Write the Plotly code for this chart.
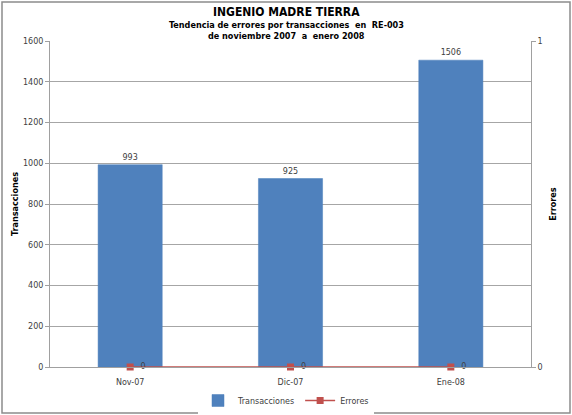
import plotly.graph_objects as go

categorias = ["Nov-07", "Dic-07", "Ene-08"]
transacciones = [993, 925, 1506]
errores = [0, 0, 0]

L, R, T, B = 50, 41, 41, 48
W, H = 572, 415
pw, ph = W - L - R, H - T - B

fig = go.Figure()
fig.add_trace(go.Bar(
    x=categorias, y=transacciones, name="Transacciones",
    marker=dict(color="#4F81BD", line=dict(color="#4A7EBB", width=0.5)),
    width=0.4,
    text=[str(v) for v in transacciones], textposition="outside",
    textfont=dict(size=8, color="#404040", family="DejaVu Sans"),
    cliponaxis=False,
))
fig.add_trace(go.Scatter(
    x=categorias, y=errores, name="Errores", yaxis="y2",
    mode="lines+markers+text",
    line=dict(color="#C0504D", width=1.5),
    marker=dict(symbol="square", size=7, color="#C0504D"),
    text=["  " + str(v) for v in errores], textposition="middle right",
    textfont=dict(size=8, color="#404040", family="DejaVu Sans"),
    cliponaxis=False,
))

fnt = "Liberation Sans Narrow, DejaVu Sans Condensed, Liberation Sans"
tick_font = dict(size=8, color="#404040", family="DejaVu Sans")

fig.update_layout(
    width=W, height=H,
    margin=dict(l=L, r=R, t=T, b=B, pad=0, autoexpand=False),
    paper_bgcolor="white", plot_bgcolor="white",
    hovermode=False,
    showlegend=True,
    legend=dict(orientation="h", x=0.5, xanchor="center", xref="container",
                y=0.0, yref="container", yanchor="bottom",
                font=dict(size=8, color="#404040", family="DejaVu Sans"),
                traceorder="normal"),
    bargap=0.6,
    xaxis=dict(showline=True, linecolor="#A0A0A0", linewidth=1, automargin=False,
               ticks="outside", ticklen=7, tickcolor="rgba(0,0,0,0)",
               tickfont=tick_font, showgrid=False),
    yaxis=dict(range=[0, 1600], dtick=200, showgrid=True, gridcolor="#A6A6A6",
               gridwidth=1, showline=True, linecolor="#A0A0A0", ticks="outside",
               ticklen=4, tickcolor="#A0A0A0", tickfont=tick_font, zeroline=False,
               automargin=False,
               title=dict(text="<b>Transacciones</b>", standoff=2,
                          font=dict(size=9, family=fnt, color="black"))),
    yaxis2=dict(range=[0, 1], tickvals=[0, 1], overlaying="y", side="right",
                showgrid=False, showline=True, linecolor="#A0A0A0", ticks="outside",
                ticklen=4, tickcolor="#A0A0A0", tickfont=tick_font, zeroline=False,
                automargin=False,
                title=dict(text="<b>Errores</b>", standoff=8,
                           font=dict(size=9, family=fnt, color="black"))),
    annotations=[
        dict(text="<b>INGENIO MADRE TIERRA</b>", xref="paper", yref="paper",
             x=(286 - L) / pw, showarrow=False,
             font=dict(size=12, family=fnt, color="black"), yanchor="middle"),
        dict(text="<b>Tendencia de errores por transacciones  en  RE-003</b>",
             xref="paper", yref="paper", x=(286 - L) / pw,
             showarrow=False, font=dict(size=9, family=fnt, color="black"),
             yanchor="middle"),
        dict(text="<b>de noviembre 2007  a  enero 2008</b>",
             xref="paper", yref="paper", x=(286 - L) / pw,
             showarrow=False, font=dict(size=9, family=fnt, color="black"),
             yanchor="middle"),
    ],
    shapes=[dict(type="rect", xref="paper", yref="paper",
                 x0=(2 - L) / pw, x1=(W - 2 - L) / pw,
                 y0=-(H - 2 - (T + ph)) / ph, y1=1 + (T - 2) / ph,
                 line=dict(color="#8C8C8C", width=1.5), layer="below")],
)
ys = [12, 25, 36]
for ann, py in zip(fig.layout.annotations, ys):
    ann.y = (T + ph - py) / ph

fig.write_html("out.html", config={"displayModeBar": False, "staticPlot": True},
               post_script="document.body.style.margin='0';document.body.style.padding='0';")
